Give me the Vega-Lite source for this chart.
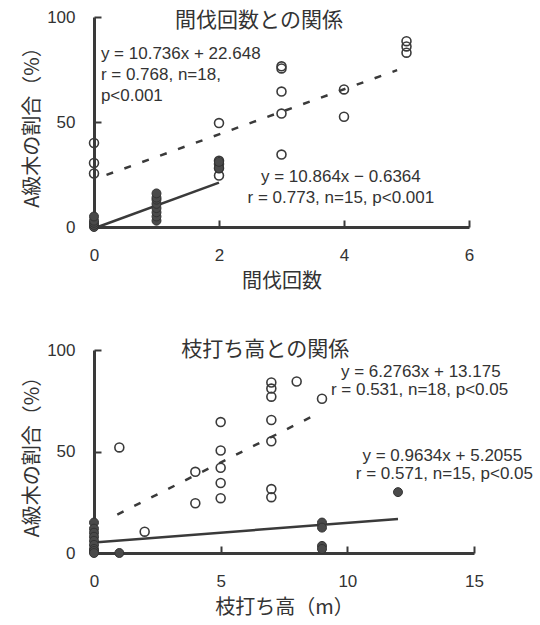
{
  "$schema": "https://vega.github.io/schema/vega-lite/v6.json",
  "background": "white",
  "padding": {"left": 22, "top": 8, "right": 5, "bottom": 6},
  "spacing": 48,
  "config": {
    "view": {"stroke": null},
    "font": "Liberation Sans, Noto Sans CJK JP",
    "axis": {
      "grid": false,
      "domainColor": "#3a3a3a",
      "domainWidth": 3,
      "tickColor": "#3a3a3a",
      "tickWidth": 2,
      "tickSize": -7,
      "labelFont": "Liberation Sans, Noto Sans CJK JP",
      "labelFontSize": 17,
      "labelColor": "#333333",
      "titleFont": "Noto Sans CJK JP",
      "titleFontSize": 20,
      "titleFontWeight": "normal",
      "titleColor": "#333333"
    },
    "axisX": {"labelPadding": 27, "titlePadding": 8, "labelFlush": false},
    "axisY": {"labelPadding": 26, "titlePadding": 4}
  },
  "datasets": {
    "pts": [
      {"panel": "thin", "group": "A", "x": 0, "y": 40},
      {"panel": "thin", "group": "A", "x": 0, "y": 30.5},
      {"panel": "thin", "group": "A", "x": 0, "y": 25.5},
      {"panel": "thin", "group": "A", "x": 2, "y": 49.5},
      {"panel": "thin", "group": "A", "x": 2, "y": 31.5},
      {"panel": "thin", "group": "A", "x": 2, "y": 30},
      {"panel": "thin", "group": "A", "x": 2, "y": 28},
      {"panel": "thin", "group": "A", "x": 2, "y": 24.5},
      {"panel": "thin", "group": "A", "x": 3, "y": 76.5},
      {"panel": "thin", "group": "A", "x": 3, "y": 75.5},
      {"panel": "thin", "group": "A", "x": 3, "y": 64.5},
      {"panel": "thin", "group": "A", "x": 3, "y": 54},
      {"panel": "thin", "group": "A", "x": 3, "y": 34.5},
      {"panel": "thin", "group": "A", "x": 4, "y": 65.5},
      {"panel": "thin", "group": "A", "x": 4, "y": 52.5},
      {"panel": "thin", "group": "A", "x": 5, "y": 88.5},
      {"panel": "thin", "group": "A", "x": 5, "y": 86},
      {"panel": "thin", "group": "A", "x": 5, "y": 83},
      {"panel": "thin", "group": "B", "x": 0, "y": 0},
      {"panel": "thin", "group": "B", "x": 0, "y": 1},
      {"panel": "thin", "group": "B", "x": 0, "y": 2},
      {"panel": "thin", "group": "B", "x": 0, "y": 3},
      {"panel": "thin", "group": "B", "x": 0, "y": 5},
      {"panel": "thin", "group": "B", "x": 1, "y": 3},
      {"panel": "thin", "group": "B", "x": 1, "y": 5},
      {"panel": "thin", "group": "B", "x": 1, "y": 7},
      {"panel": "thin", "group": "B", "x": 1, "y": 9},
      {"panel": "thin", "group": "B", "x": 1, "y": 11},
      {"panel": "thin", "group": "B", "x": 1, "y": 13},
      {"panel": "thin", "group": "B", "x": 1, "y": 14},
      {"panel": "thin", "group": "B", "x": 1, "y": 16},
      {"panel": "thin", "group": "B", "x": 2, "y": 28},
      {"panel": "thin", "group": "B", "x": 2, "y": 31},
      {"panel": "prune", "group": "A", "x": 1, "y": 52},
      {"panel": "prune", "group": "A", "x": 2, "y": 10.5},
      {"panel": "prune", "group": "A", "x": 4, "y": 40},
      {"panel": "prune", "group": "A", "x": 4, "y": 24.5},
      {"panel": "prune", "group": "A", "x": 5, "y": 64.5},
      {"panel": "prune", "group": "A", "x": 5, "y": 50.5},
      {"panel": "prune", "group": "A", "x": 5, "y": 42},
      {"panel": "prune", "group": "A", "x": 5, "y": 34.5},
      {"panel": "prune", "group": "A", "x": 5, "y": 27},
      {"panel": "prune", "group": "A", "x": 7, "y": 84},
      {"panel": "prune", "group": "A", "x": 7, "y": 81},
      {"panel": "prune", "group": "A", "x": 7, "y": 77},
      {"panel": "prune", "group": "A", "x": 7, "y": 65.5},
      {"panel": "prune", "group": "A", "x": 7, "y": 55},
      {"panel": "prune", "group": "A", "x": 7, "y": 31.5},
      {"panel": "prune", "group": "A", "x": 7, "y": 27.5},
      {"panel": "prune", "group": "A", "x": 8, "y": 84.5},
      {"panel": "prune", "group": "A", "x": 9, "y": 76},
      {"panel": "prune", "group": "B", "x": 0, "y": 15},
      {"panel": "prune", "group": "B", "x": 0, "y": 12},
      {"panel": "prune", "group": "B", "x": 0, "y": 10},
      {"panel": "prune", "group": "B", "x": 0, "y": 8},
      {"panel": "prune", "group": "B", "x": 0, "y": 6},
      {"panel": "prune", "group": "B", "x": 0, "y": 4},
      {"panel": "prune", "group": "B", "x": 0, "y": 2},
      {"panel": "prune", "group": "B", "x": 0, "y": 1},
      {"panel": "prune", "group": "B", "x": 0, "y": 0},
      {"panel": "prune", "group": "B", "x": 1, "y": 0},
      {"panel": "prune", "group": "B", "x": 9, "y": 15},
      {"panel": "prune", "group": "B", "x": 9, "y": 12.5},
      {"panel": "prune", "group": "B", "x": 9, "y": 3.5},
      {"panel": "prune", "group": "B", "x": 9, "y": 2},
      {"panel": "prune", "group": "B", "x": 12, "y": 30}
    ],
    "fits": [
      {"panel": "thin", "group": "A", "x": 0.2, "y": 24.8},
      {"panel": "thin", "group": "A", "x": 4.85, "y": 74.7},
      {"panel": "thin", "group": "B", "x": 0.06, "y": 0},
      {"panel": "thin", "group": "B", "x": 2, "y": 21.1},
      {"panel": "prune", "group": "A", "x": 0.92, "y": 18.95},
      {"panel": "prune", "group": "A", "x": 8.6, "y": 67.2},
      {"panel": "prune", "group": "B", "x": 0, "y": 5.2},
      {"panel": "prune", "group": "B", "x": 12, "y": 16.8}
    ],
    "notes": [
      {"panel": "thin", "role": "title", "x": 2.64, "y": 98, "text": "間伐回数との関係"},
      {"panel": "thin", "role": "eqA", "x": 0.11, "y": 82.4, "text": "y = 10.736x + 22.648"},
      {"panel": "thin", "role": "eqA", "x": 0.11, "y": 72.4, "text": "r = 0.768, n=18,"},
      {"panel": "thin", "role": "eqA", "x": 0.11, "y": 62.4, "text": "p<0.001"},
      {"panel": "thin", "role": "eqB", "x": 3.95, "y": 23.8, "text": "y = 10.864x − 0.6364"},
      {"panel": "thin", "role": "eqB", "x": 3.95, "y": 13.8, "text": "r = 0.773, n=15, p<0.001"},
      {"panel": "prune", "role": "title", "x": 6.76, "y": 100, "text": "枝打ち高との関係"},
      {"panel": "prune", "role": "eqA", "x": 12.9, "y": 89.2, "text": "y = 6.2763x + 13.175"},
      {"panel": "prune", "role": "eqA", "x": 12.85, "y": 80.3, "text": "r = 0.531, n=18, p<0.05"},
      {"panel": "prune", "role": "eqB", "x": 13.75, "y": 47.8, "text": "y = 0.9634x + 5.2055"},
      {"panel": "prune", "role": "eqB", "x": 13.83, "y": 38.9, "text": "r = 0.571, n=15, p<0.05"}
    ]
  },
  "vconcat": [
    {
      "width": 375,
      "height": 210,
      "encoding": {
        "x": {"field": "x", "type": "quantitative", "scale": {"domain": [0, 6], "nice": false}, "axis": {"values": [0, 2, 4, 6], "title": "間伐回数"}},
        "y": {"field": "y", "type": "quantitative", "scale": {"domain": [0, 100], "nice": false}, "axis": {"values": [0, 50, 100], "title": "A級木の割合（%）"}}
      },
      "layer": [
        {"data": {"name": "fits"}, "transform": [{"filter": "datum.panel === 'thin' && datum.group === 'A'"}], "mark": {"type": "line", "color": "#3a3a3a", "strokeWidth": 2.5, "strokeDash": [7, 12]}},
        {"data": {"name": "fits"}, "transform": [{"filter": "datum.panel === 'thin' && datum.group === 'B'"}], "mark": {"type": "line", "color": "#3a3a3a", "strokeWidth": 2.5}},
        {"data": {"name": "pts"}, "transform": [{"filter": "datum.panel === 'thin' && datum.group === 'A'"}], "mark": {"type": "point", "shape": "circle", "filled": false, "size": 80, "strokeWidth": 1.6, "color": "#3a3a3a", "opacity": 1}},
        {"data": {"name": "pts"}, "transform": [{"filter": "datum.panel === 'thin' && datum.group === 'B'"}], "mark": {"type": "point", "shape": "circle", "filled": true, "size": 80, "color": "#4a4a4a", "stroke": "#333333", "strokeWidth": 1, "opacity": 1}},
        {"data": {"name": "notes"}, "transform": [{"filter": "datum.panel === 'thin' && datum.role === 'title'"}], "mark": {"type": "text", "fontSize": 21, "align": "center", "baseline": "middle", "color": "#333333", "font": "Noto Sans CJK JP"}, "encoding": {"text": {"field": "text"}}},
        {"data": {"name": "notes"}, "transform": [{"filter": "datum.panel === 'thin' && datum.role === 'eqA'"}], "mark": {"type": "text", "fontSize": 17, "align": "left", "baseline": "middle", "color": "#333333"}, "encoding": {"text": {"field": "text"}}},
        {"data": {"name": "notes"}, "transform": [{"filter": "datum.panel === 'thin' && datum.role === 'eqB'"}], "mark": {"type": "text", "fontSize": 17, "align": "center", "baseline": "middle", "color": "#333333"}, "encoding": {"text": {"field": "text"}}}
      ]
    },
    {
      "width": 380,
      "height": 203,
      "encoding": {
        "x": {"field": "x", "type": "quantitative", "scale": {"domain": [0, 15], "nice": false}, "axis": {"values": [0, 5, 10, 15], "title": "枝打ち高（m）"}},
        "y": {"field": "y", "type": "quantitative", "scale": {"domain": [0, 100], "nice": false}, "axis": {"values": [0, 50, 100], "title": "A級木の割合（%）"}}
      },
      "layer": [
        {"data": {"name": "fits"}, "transform": [{"filter": "datum.panel === 'prune' && datum.group === 'A'"}], "mark": {"type": "line", "color": "#3a3a3a", "strokeWidth": 2.5, "strokeDash": [7, 12]}},
        {"data": {"name": "fits"}, "transform": [{"filter": "datum.panel === 'prune' && datum.group === 'B'"}], "mark": {"type": "line", "color": "#3a3a3a", "strokeWidth": 2.5}},
        {"data": {"name": "pts"}, "transform": [{"filter": "datum.panel === 'prune' && datum.group === 'A'"}], "mark": {"type": "point", "shape": "circle", "filled": false, "size": 80, "strokeWidth": 1.6, "color": "#3a3a3a", "opacity": 1}},
        {"data": {"name": "pts"}, "transform": [{"filter": "datum.panel === 'prune' && datum.group === 'B'"}], "mark": {"type": "point", "shape": "circle", "filled": true, "size": 80, "color": "#4a4a4a", "stroke": "#333333", "strokeWidth": 1, "opacity": 1}},
        {"data": {"name": "notes"}, "transform": [{"filter": "datum.panel === 'prune' && datum.role === 'title'"}], "mark": {"type": "text", "fontSize": 21, "align": "center", "baseline": "middle", "color": "#333333", "font": "Noto Sans CJK JP"}, "encoding": {"text": {"field": "text"}}},
        {"data": {"name": "notes"}, "transform": [{"filter": "datum.panel === 'prune' && datum.role !== 'title'"}], "mark": {"type": "text", "fontSize": 17, "align": "center", "baseline": "middle", "color": "#333333"}, "encoding": {"text": {"field": "text"}}}
      ]
    }
  ]
}
